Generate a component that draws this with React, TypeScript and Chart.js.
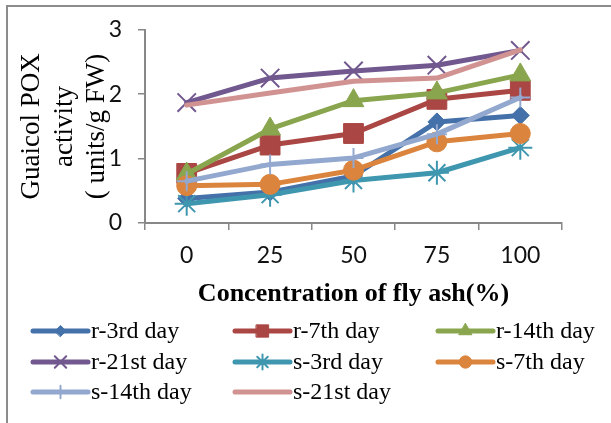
import React, { useEffect, useRef } from "react";
import { Chart, registerables } from "chart.js";
import { drawPoint } from "chart.js/helpers";

Chart.register(...registerables);

const categories = ["0", "25", "50", "75", "100"];
const yTicks = [0, 1, 2, 3];

const r3rd = [0.38, 0.48, 0.73, 1.57, 1.67];
const r7th = [0.77, 1.21, 1.39, 1.92, 2.06];
const r14th = [0.76, 1.46, 1.9, 2.02, 2.3];
const r21st = [1.87, 2.25, 2.36, 2.45, 2.68];
const s3rd = [0.3, 0.44, 0.66, 0.78, 1.17];
const s7th = [0.58, 0.6, 0.82, 1.26, 1.39];
const s14th = [0.65, 0.91, 1.01, 1.38, 1.95];
const s21st = [1.83, 2.02, 2.2, 2.25, 2.69];

const seriesNames = [
  "r-3rd day",
  "r-7th day",
  "r-14th day",
  "r-21st day",
  "s-3rd day",
  "s-7th day",
  "s-14th day",
  "s-21st day",
];
const seriesData = [r3rd, r7th, r14th, r21st, s3rd, s7th, s14th, s21st];
const seriesColors = [
  "#4471A9",
  "#AA4643",
  "#89A54E",
  "#71588F",
  "#3F97AF",
  "#DB843D",
  "#92A8CF",
  "#D19392",
];
const seriesPointStyles = [
  "rectRot",
  "rect",
  "triangle",
  "crossRot",
  "star",
  "circle",
  "cross",
  "circle",
];
const seriesPointRadius = [9, 14, 12, 13, 12, 10, 10, 0];
const seriesPointBorder = [1, 1, 1, 2, 2, 1, 2, 1];

const legendPlugin = {
  id: "gridLegend",
  afterDraw(chart: any) {
    const ctx = chart.ctx;
    const colX = [33, 235, 438];
    const rowY = [331, 362, 392];
    ctx.save();
    chart.data.datasets.forEach((ds: any, i: number) => {
      const col = i % 3;
      const row = Math.floor(i / 3);
      const x0 = colX[col];
      const y = rowY[row];
      const len = 55;
      ctx.strokeStyle = ds.borderColor;
      ctx.lineWidth = 5;
      ctx.lineCap = "round";
      ctx.beginPath();
      ctx.moveTo(x0, y);
      ctx.lineTo(x0 + len, y);
      ctx.stroke();
      if (ds.pointRadius > 0) {
        ctx.fillStyle = ds.pointBackgroundColor;
        ctx.strokeStyle = ds.pointBorderColor;
        ctx.lineWidth = ds.pointBorderWidth;
        drawPoint(ctx, {
          pointStyle: ds.pointStyle,
          rotation: 0,
          borderWidth: ds.pointBorderWidth,
          radius: ds.pointRadius * 0.62,
        } as any, x0 + len / 2, y);
      }
      ctx.fillStyle = "#000";
      ctx.font = "24px 'Liberation Serif'";
      ctx.textBaseline = "middle";
      ctx.textAlign = "left";
      ctx.fillText(ds.label, x0 + len + 3, y + 1);
    });
    ctx.restore();
  },
};

export default function App() {
  const canvasRef = useRef<HTMLCanvasElement | null>(null);

  useEffect(() => {
    if (!canvasRef.current) return;
    const n = seriesNames.length;
    const chart = new Chart(canvasRef.current, {
      type: "line",
      data: {
        labels: categories,
        datasets: seriesNames.map((name, i) => ({
          label: name,
          data: seriesData[i],
          borderColor: seriesColors[i],
          backgroundColor: seriesColors[i],
          borderWidth: 5,
          borderCapStyle: "round",
          borderJoinStyle: "round",
          tension: 0,
          pointStyle: seriesPointStyles[i],
          pointRadius: seriesPointRadius[i],
          pointHoverRadius: seriesPointRadius[i],
          pointBackgroundColor: seriesColors[i],
          pointBorderColor: seriesColors[i],
          pointBorderWidth: seriesPointBorder[i],
          order: n - i,
        })),
      },
      options: {
        responsive: false,
        animation: false,
        layout: { padding: { top: 26, right: 49, bottom: 110, left: 0 } },
        plugins: {
          legend: { display: false },
          tooltip: { enabled: false },
        },
        scales: {
          x: {
            offset: true,
            grid: {
              offset: true,
              drawOnChartArea: false,
              drawTicks: true,
              tickLength: 7,
              color: "#888888",
              lineWidth: 1.5,
            },
            border: { color: "#888888", width: 2 },
            ticks: {
              color: "#111",
              font: { family: "Lato", size: 23 },
              padding: 12,
              maxRotation: 0,
            },
            title: {
              display: true,
              text: "Concentration of fly ash(%)",
              color: "#000",
              font: { family: "'Liberation Serif'", size: 26, weight: "bold", lineHeight: 1.2 },
              padding: { top: 0, bottom: 3 },
            },
            afterFit(scale: any) {
              scale.height = 90;
            },
          },
          y: {
            min: 0,
            max: 3,
            afterBuildTicks(scale: any) {
              scale.ticks = yTicks.map((v) => ({ value: v }));
            },
            grid: {
              drawOnChartArea: false,
              drawTicks: true,
              tickLength: 7,
              color: "#888888",
              lineWidth: 1.5,
            },
            border: { color: "#888888", width: 2 },
            ticks: {
              color: "#111",
              font: { family: "Lato", size: 23 },
              padding: 16,
            },
            title: {
              display: true,
              text: ["Guaicol POX", "activity", "( units/g FW)"],
              color: "#000",
              font: { family: "'Liberation Serif'", size: 27, lineHeight: 1.2 },
              padding: { top: 16, bottom: 0 },
            },
            afterFit(scale: any) {
              scale.width = 145;
            },
          },
        },
      },
      plugins: [legendPlugin],
    } as any);
    return () => chart.destroy();
  }, []);

  return (
    <div style={{ position: "absolute", left: 0, top: 0, width: 611, height: 423, background: "#fff" }}>
      <div
        style={{
          position: "absolute",
          left: 6,
          top: 5,
          width: 605,
          height: 418,
          borderLeft: "2px solid #8c8c8c",
          borderTop: "2px solid #8c8c8c",
          boxSizing: "border-box",
        }}
      />
      <canvas ref={canvasRef} width={611} height={423} style={{ position: "absolute", left: 0, top: 0 }} />
    </div>
  );
}
